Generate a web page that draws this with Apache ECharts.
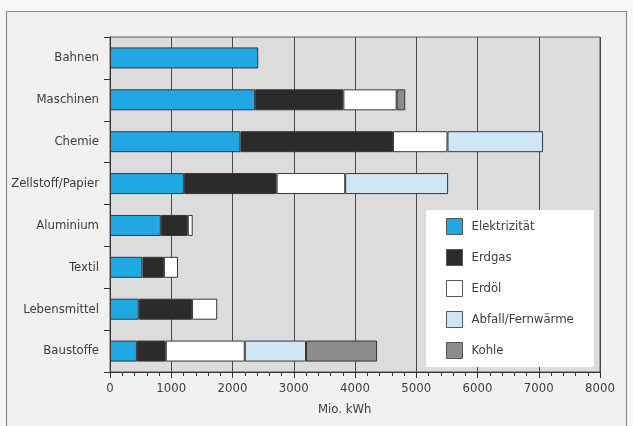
<!DOCTYPE html>
<html><head><meta charset="utf-8">
<script src="https://cdn.jsdelivr.net/npm/echarts@6/dist/echarts.min.js"></script>
<style>html,body{margin:0;padding:0;background:#f7f7f5;}#c{width:633px;height:426px;}</style>
</head><body><div id="c"></div>
<script>
const categories = ['Bahnen','Maschinen','Chemie','Zellstoff/Papier','Aluminium','Textil','Lebensmittel','Baustoffe'];
const elektrizitaet = [2420, 2370, 2130, 1210, 830, 530, 470, 440];
const erdgas        = [0, 1440, 2490, 1510, 440, 350, 870, 470];
const erdoel        = [0, 870, 890, 1120, 80, 230, 410, 1290];
const abfall        = [0, 0, 1560, 1680, 0, 0, 0, 1000];
const kohle         = [0, 140, 0, 0, 0, 0, 0, 1160];
const seriesNames = ['Elektrizität','Erdgas','Erdöl','Abfall/Fernwärme','Kohle'];
const xTicks = [0,1000,2000,3000,4000,5000,6000,7000,8000];

const FONT = '"Liberation Sans Narrow","DejaVu Sans Condensed","Roboto",sans-serif';
const colors = ['#1fa8e2','#2b2b2b','#ffffff','#cfe7f4','#8c8c8c'];
const dataSets = [elektrizitaet, erdgas, erdoel, abfall, kohle];
const TXT = '#3c3c3c';

const chart = echarts.init(document.getElementById('c'), null, {renderer:'canvas'});
chart.setOption({
  animation:false,
  backgroundColor:'#f7f7f5',
  graphic:[{type:'rect', z:-10, shape:{x:6.5,y:11.5,width:620,height:430},
            style:{fill:'#f1f1ef', stroke:'#8a8890', lineWidth:1.2}},
           {type:'text', left:318, top:403, style:{text:'Mio. kWh', fill:TXT, font:'13px '+FONT}}],
  grid:{left:110, right:33, top:37, bottom:54, show:true, backgroundColor:'#dcdcdc', borderColor:'#5a5660', borderWidth:1},
  legend:{
    orient:'vertical', left:426, top:210,
    backgroundColor:'#ffffff', padding:[8,20,8,20],
    itemWidth:16, itemHeight:16, itemGap:14,
    icon:'rect',
    itemStyle:{borderColor:'#555', borderWidth:1},
    textStyle:{color:TXT, fontSize:13, fontFamily:FONT, padding:[0,0,0,4]},
    data:seriesNames
  },
  xAxis:[{
    type:'value', min:xTicks[0], max:xTicks[xTicks.length-1], interval:1000,
    axisLine:{show:true, lineStyle:{color:'#333', width:1}},
    axisTick:{show:true, length:6, lineStyle:{color:'#333'}},
    minorTick:{show:true, splitNumber:5, length:4, lineStyle:{color:'#333', width:1}},
    splitLine:{show:true, lineStyle:{color:'#4a4a4a', width:1}},
    axisLabel:{color:TXT, fontSize:13, fontFamily:FONT, margin:10, formatter:v=>String(v)}
  }],
  yAxis:{
    type:'category', data:categories, inverse:true,
    axisLine:{show:true, lineStyle:{color:'#333'}},
    axisTick:{show:true, length:6, lineStyle:{color:'#333'}},
    axisLabel:{color:TXT, fontSize:13, fontFamily:FONT, margin:11}
  },
  series: seriesNames.map((n,i)=>({
    name:n, type:'bar', stack:'total', barWidth:21, xAxisIndex:0,
    itemStyle:{color:colors[i], borderColor:'#3a3438', borderWidth:1},
    data:dataSets[i].map(v=>v===0?null:v)
  }))
});
</script></body></html>
